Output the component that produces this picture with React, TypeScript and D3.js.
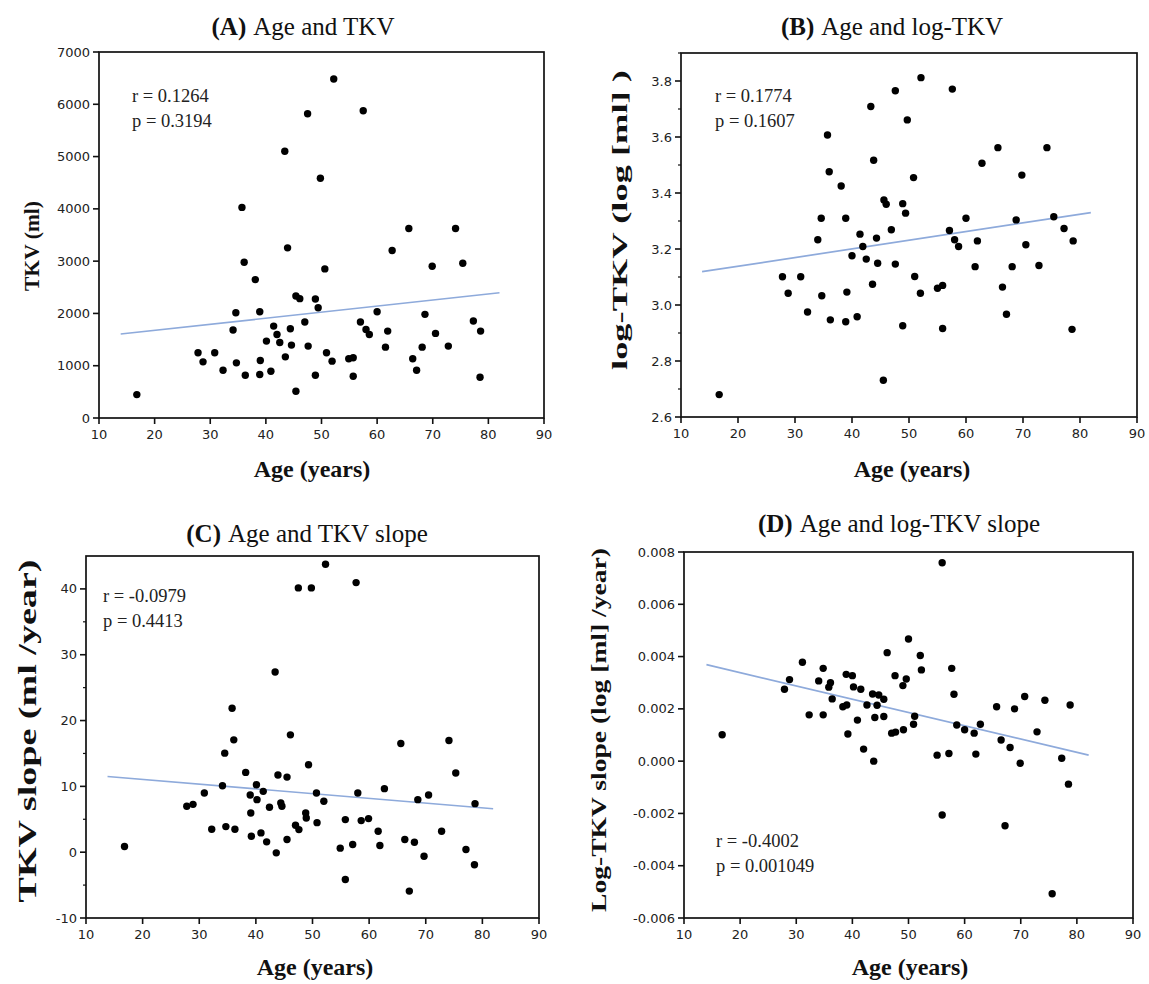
import React from "react";
import * as d3 from "d3";

// ---------- DATA ----------
const xTicks = [10, 20, 30, 40, 50, 60, 70, 80, 90];

// Panel A: Age vs TKV (ml)
const agesA = [16.8, 27.8, 28.7, 30.8, 32.3, 34.1, 34.6, 34.7, 35.7, 36.1, 36.3, 38.1, 38.9, 39.0, 38.9, 40.1, 40.9, 41.4, 42.0, 42.5, 43.4, 43.5, 43.9, 44.4, 44.6, 45.4, 45.4, 46.1, 47.0, 47.5, 47.6, 48.9, 48.9, 49.4, 49.8, 50.6, 50.9, 51.9, 52.2, 54.9, 55.7, 55.7, 57.0, 57.5, 58.0, 58.6, 60.0, 61.5, 61.9, 62.7, 65.7, 66.4, 67.1, 68.1, 68.6, 69.9, 70.5, 72.8, 74.1, 75.4, 77.3, 78.5, 78.6];
const tkvA = [448, 1247, 1074, 1247, 914, 1682, 2014, 1055, 4028, 2980, 818, 2647, 2033, 1100, 831, 1471, 895, 1758, 1598, 1445, 5102, 1170, 3254, 1707, 1394, 512, 2334, 2283, 1835, 5818, 1375, 2276, 818, 2110, 4584, 2852, 1247, 1087, 6483, 1132, 1151, 799, 1835, 5876, 1694, 1598, 2033, 1355, 1662, 3203, 3625, 1132, 914, 1355, 1982, 2903, 1618, 1375, 3625, 2960, 1854, 780, 1662];
const fitAgeA = [13.9, 82.0];
const fitA = [1606, 2396];
const yTicksA = [0, 1000, 2000, 3000, 4000, 5000, 6000, 7000];

// Panel B: Age vs log-TKV
const agesB = [16.7, 27.8, 28.8, 31.0, 32.2, 34.0, 34.6, 34.7, 35.7, 36.0, 36.2, 38.1, 38.9, 39.1, 38.9, 40.0, 40.9, 41.4, 41.9, 42.5, 43.3, 43.6, 43.8, 44.3, 44.5, 45.5, 45.6, 46.0, 46.9, 47.6, 47.6, 48.9, 48.9, 49.4, 49.7, 50.8, 51.0, 52.0, 52.1, 55.0, 55.9, 55.9, 57.1, 57.6, 58.0, 58.7, 60.0, 61.6, 62.0, 62.8, 65.6, 66.4, 67.1, 68.1, 68.8, 69.8, 70.5, 72.8, 74.2, 75.4, 77.2, 78.6, 78.8];
const logTkvB = [2.680, 3.101, 3.042, 3.101, 2.975, 3.233, 3.310, 3.033, 3.607, 3.476, 2.947, 3.425, 3.310, 3.046, 2.940, 3.176, 2.958, 3.253, 3.209, 3.164, 3.709, 3.074, 3.517, 3.239, 3.149, 2.731, 3.375, 3.360, 3.269, 3.765, 3.146, 3.362, 2.926, 3.328, 3.661, 3.455, 3.102, 3.042, 3.812, 3.060, 3.070, 2.916, 3.266, 3.771, 3.233, 3.209, 3.310, 3.137, 3.229, 3.506, 3.562, 3.064, 2.967, 3.137, 3.304, 3.464, 3.215, 3.141, 3.562, 3.315, 3.273, 2.913, 3.229];
const fitAgeB = [13.7, 81.9];
const fitB = [3.119, 3.330];
const yTicksB = [2.6, 2.8, 3.0, 3.2, 3.4, 3.6, 3.8];
const yMinorB = [2.7, 2.9, 3.1, 3.3, 3.5, 3.7, 3.9];

// Panel C: Age vs TKV slope (ml/year)
const agesC = [16.8, 27.8, 28.9, 30.9, 32.2, 34.1, 34.5, 34.7, 35.8, 36.1, 36.3, 38.2, 39.0, 39.1, 39.2, 40.1, 40.2, 40.9, 41.3, 41.9, 42.4, 43.4, 43.6, 43.9, 44.4, 44.6, 45.5, 45.5, 46.1, 47.0, 47.5, 47.6, 48.8, 48.9, 49.3, 49.8, 50.7, 50.8, 52.0, 52.3, 54.9, 55.8, 55.8, 57.1, 57.7, 58.0, 58.6, 59.9, 61.6, 61.9, 62.7, 65.6, 66.3, 67.1, 68.0, 68.6, 69.7, 70.5, 72.8, 74.1, 75.3, 77.1, 78.6, 78.7];
const slopeC = [0.86, 6.97, 7.27, 8.99, 3.48, 10.1, 15.05, 3.89, 21.87, 17.07, 3.48, 12.12, 8.69, 5.96, 2.42, 10.25, 7.98, 2.93, 9.24, 1.57, 6.82, 27.37, -0.1, 11.72, 7.47, 6.97, 11.41, 1.92, 17.83, 4.09, 40.15, 3.43, 5.96, 5.2, 13.28, 40.15, 8.99, 4.49, 7.73, 43.74, 0.61, 4.95, -4.14, 1.16, 40.96, 8.99, 4.8, 5.1, 3.18, 1.01, 9.65, 16.52, 1.92, -5.91, 1.52, 7.98, -0.61, 8.69, 3.18, 16.97, 12.02, 0.4, -1.92, 7.37];
const fitAgeC = [13.8, 81.9];
const fitC = [11.5, 6.6];
const yTicksC = [-10, 0, 10, 20, 30, 40];
const yMinorC = [-5, 5, 15, 25, 35];

// Panel D: Age vs log-TKV slope
const agesD = [16.8, 27.9, 28.8, 31.1, 32.3, 34.0, 34.8, 34.8, 35.8, 36.1, 36.4, 38.3, 39.0, 38.9, 39.2, 40.0, 40.2, 40.9, 41.5, 42.0, 42.6, 43.6, 43.8, 44.0, 44.4, 44.7, 45.6, 45.6, 46.2, 47.0, 47.7, 47.6, 49.0, 49.1, 49.6, 50.0, 50.9, 51.1, 52.1, 52.3, 55.1, 56.0, 56.0, 57.2, 57.7, 58.1, 58.6, 60.0, 61.7, 62.0, 62.8, 65.7, 66.5, 67.2, 68.1, 68.9, 69.9, 70.7, 72.9, 74.3, 75.6, 77.3, 78.5, 78.8];
const logSlopeD = [0.00101, 0.00275, 0.00312, 0.00378, 0.00177, 0.00307, 0.00355, 0.00177, 0.00283, 0.00300, 0.00238, 0.00208, 0.00215, 0.00332, 0.00104, 0.00327, 0.00284, 0.00157, 0.00275, 0.00046, 0.00215, 0.00257, 0.0, 0.00167, 0.00214, 0.00253, 0.00237, 0.00171, 0.00415, 0.00107, 0.00111, 0.00327, 0.00289, 0.00120, 0.00314, 0.00467, 0.00141, 0.00172, 0.00404, 0.00349, 0.00023, 0.00759, -0.00206, 0.00029, 0.00355, 0.00256, 0.00138, 0.00120, 0.00107, 0.00027, 0.00141, 0.00208, 0.00081, -0.00247, 0.00052, 0.00200, -0.00008, 0.00247, 0.00112, 0.00233, -0.00507, 0.00011, -0.00088, 0.00215];
const fitAgeD = [14.0, 82.1];
const fitD = [0.00369, 0.00023];
const yTicksD = [-0.006, -0.004, -0.002, 0.0, 0.002, 0.004, 0.006, 0.008];

// ---------- STYLE / LAYOUT ----------
const SERIF = "'Liberation Serif', 'Times New Roman', serif";
const SANS = "'DejaVu Sans', Verdana, sans-serif";
const LINE_COLOR = "#8eaadb";

type PanelProps = {
  box: { left: number; right: number; top: number; bottom: number };
  yDomain: [number, number];
  ages: number[];
  vals: number[];
  fitX: number[];
  fitY: number[];
  yTicks: number[];
  yMinor?: number[];
  yFmt: (v: number) => string;
  title: { letter: string; text: string; x: number; y: number };
  xLabel: { x: number; y: number };
  yLabel: { text: string; x: number; y: number; size: number; len: number };
  stats: { r: string; p: string; x: number; y: number };
};

function Panel(props: PanelProps) {
  const { box, yDomain, ages, vals, fitX, fitY, yTicks, yMinor, yFmt, title, xLabel, yLabel, stats } = props;
  const x = d3.scaleLinear().domain([10, 90]).range([box.left, box.right]);
  const y = d3.scaleLinear().domain(yDomain).range([box.bottom, box.top]);
  const line = d3.line<[number, number]>().x((d) => x(d[0])).y((d) => y(d[1]));
  const fitPts: [number, number][] = fitX.map((v, i) => [v, fitY[i]]);
  return (
    <g>
      <text x={title.x} y={title.y} textAnchor="middle" fontFamily={SERIF} fontSize={25} fill="#111">
        <tspan fontWeight="bold">{`(${title.letter})`}</tspan>
        <tspan dx={7}>{title.text}</tspan>
      </text>
      <rect x={box.left} y={box.top} width={box.right - box.left} height={box.bottom - box.top} fill="none" stroke="#111" strokeWidth={1.7} />
      {xTicks.map((t) => (
        <g key={"xt" + t}>
          <line x1={x(t)} x2={x(t)} y1={box.bottom} y2={box.bottom + 6} stroke="#111" strokeWidth={1.6} />
          <text x={x(t)} y={box.bottom + 21} textAnchor="middle" fontFamily={SANS} fontSize={13} fill="#222">{t}</text>
        </g>
      ))}
      {yTicks.map((t) => (
        <g key={"yt" + t}>
          <line x1={box.left - 6} x2={box.left} y1={y(t)} y2={y(t)} stroke="#111" strokeWidth={1.6} />
          <text x={box.left - 9} y={y(t) + 4.5} textAnchor="end" fontFamily={SANS} fontSize={13} fill="#222">{yFmt(t)}</text>
        </g>
      ))}
      {(yMinor || []).map((t) => (
        <line key={"ym" + t} x1={box.left - 3} x2={box.left} y1={y(t)} y2={y(t)} stroke="#111" strokeWidth={1.2} />
      ))}
      <path d={line(fitPts) || ""} fill="none" stroke={LINE_COLOR} strokeWidth={1.7} />
      {ages.map((a, i) => (
        <circle key={"p" + i} cx={x(a)} cy={y(vals[i])} r={3.7} fill="#000" />
      ))}
      <text x={stats.x} y={stats.y} fontFamily={SERIF} fontSize={18.5} fill="#222">{stats.r}</text>
      <text x={stats.x} y={stats.y + 25} fontFamily={SERIF} fontSize={18.5} fill="#222">{stats.p}</text>
      <text x={xLabel.x} y={xLabel.y} textAnchor="middle" fontFamily={SERIF} fontWeight="bold" fontSize={24} fill="#111">Age (years)</text>
      <text
        transform={`translate(${yLabel.x},${yLabel.y}) rotate(-90)`}
        textAnchor="middle"
        dominantBaseline="central"
        fontFamily={SERIF}
        fontWeight="bold"
        fontSize={yLabel.size}
        fill="#111"
        textLength={yLabel.len}
        lengthAdjust="spacingAndGlyphs"
      >
        {yLabel.text}
      </text>
    </g>
  );
}

export default function App() {
  return (
    <svg width={1149} height={984} style={{ position: "absolute", left: 0, top: 0, background: "#fff" }}>
      <rect x={0} y={0} width={1149} height={984} fill="#fff" />
      <Panel
        box={{ left: 99, right: 544, top: 52, bottom: 418 }}
        yDomain={[0, 7000]}
        ages={agesA}
        vals={tkvA}
        fitX={fitAgeA}
        fitY={fitA}
        yTicks={yTicksA}
        yFmt={(v) => String(v)}
        title={{ letter: "A", text: "Age and TKV", x: 303, y: 35 }}
        xLabel={{ x: 312, y: 477 }}
        yLabel={{ text: "TKV (ml)", x: 31, y: 246, size: 22, len: 90 }}
        stats={{ r: "r = 0.1264", p: "p = 0.3194", x: 132, y: 102 }}
      />
      <Panel
        box={{ left: 681, right: 1137, top: 53, bottom: 417 }}
        yDomain={[2.6, 3.9]}
        ages={agesB}
        vals={logTkvB}
        fitX={fitAgeB}
        fitY={fitB}
        yTicks={yTicksB}
        yMinor={yMinorB}
        yFmt={(v) => v.toFixed(1)}
        title={{ letter: "B", text: "Age and log-TKV", x: 892, y: 35 }}
        xLabel={{ x: 912, y: 477 }}
        yLabel={{ text: "log-TKV  (log [ml] )", x: 619, y: 220, size: 22, len: 300 }}
        stats={{ r: "r = 0.1774", p: "p = 0.1607", x: 715, y: 102 }}
      />
      <Panel
        box={{ left: 86, right: 539, top: 556, bottom: 918 }}
        yDomain={[-10, 45]}
        ages={agesC}
        vals={slopeC}
        fitX={fitAgeC}
        fitY={fitC}
        yTicks={yTicksC}
        yMinor={yMinorC}
        yFmt={(v) => String(v)}
        title={{ letter: "C", text: "Age and TKV slope", x: 307, y: 542 }}
        xLabel={{ x: 315, y: 975 }}
        yLabel={{ text: "TKV slope  (ml /year)", x: 27, y: 731, size: 25, len: 343 }}
        stats={{ r: "r = -0.0979", p: "p = 0.4413", x: 103, y: 602 }}
      />
      <Panel
        box={{ left: 684, right: 1133, top: 552, bottom: 918 }}
        yDomain={[-0.006, 0.008]}
        ages={agesD}
        vals={logSlopeD}
        fitX={fitAgeD}
        fitY={fitD}
        yTicks={yTicksD}
        yFmt={(v) => v.toFixed(3)}
        title={{ letter: "D", text: "Age and log-TKV slope", x: 899, y: 532 }}
        xLabel={{ x: 910, y: 975 }}
        yLabel={{ text: "Log-TKV slope  (log [ml] /year)", x: 598, y: 730, size: 22, len: 364 }}
        stats={{ r: "r = -0.4002", p: "p = 0.001049", x: 716, y: 847 }}
      />
    </svg>
  );
}
